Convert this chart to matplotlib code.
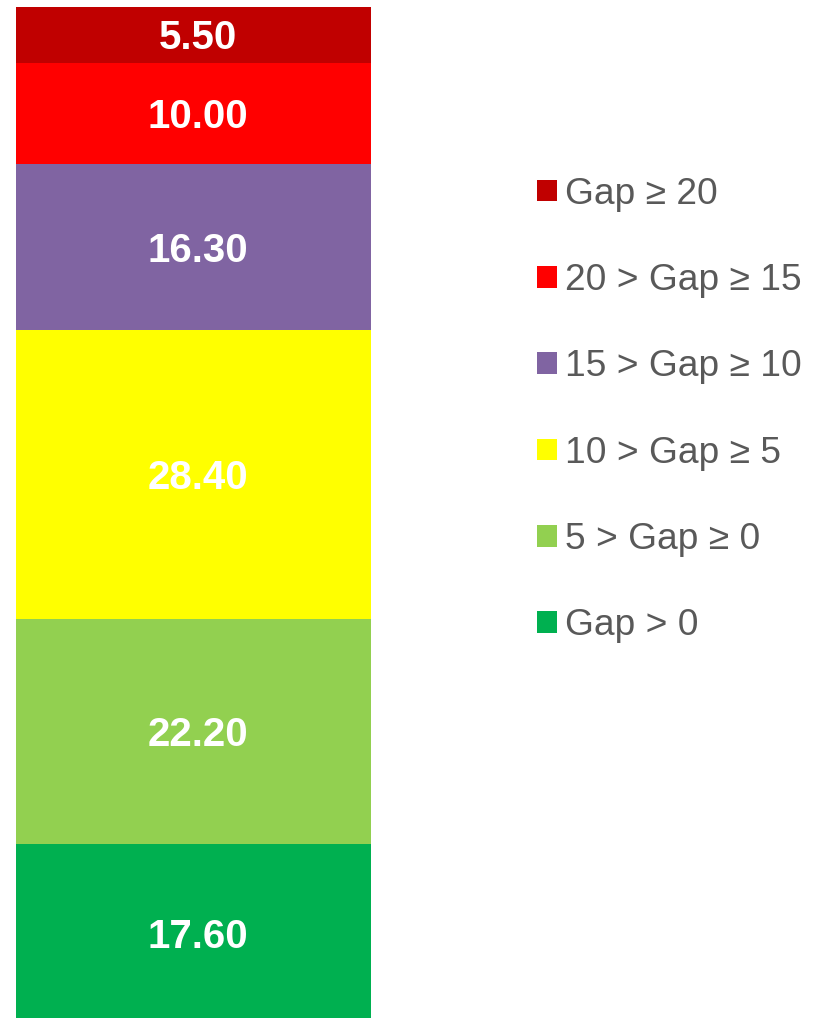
import matplotlib.pyplot as plt
from matplotlib.patches import Patch

plt.rcParams['font.family'] = ['Liberation Sans', 'DejaVu Sans']

# bottom to top
values = [17.60, 22.20, 28.40, 16.30, 10.00, 5.50]
labels = ['Gap > 0', '5 > Gap \u2265 0', '10 > Gap \u2265 5',
          '15 > Gap \u2265 10', '20 > Gap \u2265 15', 'Gap \u2265 20']
colors = ['#00B050', '#92D050', '#FFFF00', '#8064A2', '#FF0000', '#C00000']

W, H = 814, 1018
fig = plt.figure(figsize=(W / 100, H / 100), dpi=100)
# bar runs a few pixels past the bottom edge of the picture
ax = fig.add_axes([16 / W, -5 / H, (371 - 16) / W, (1023 - 7) / H])

bottom = 0
for v, c, lab in zip(values, colors, labels):
    ax.bar(0, v, bottom=bottom, width=1.0, color=c, label=lab, linewidth=0)
    # centre the digits (cap height) on the segment
    ax.annotate(f'{v:.2f}', (0, bottom + v / 2), xytext=(3.2, -10.4),
                textcoords='offset points', ha='center', va='baseline',
                color='white', fontsize=29, fontweight='bold')
    bottom += v

ax.set_xlim(-0.5, 0.5)
ax.set_ylim(0, sum(values))
ax.axis('off')

handles = [Patch(facecolor=c, edgecolor='none') for c in colors][::-1]
fig.legend(handles, labels[::-1], loc='center left',
           bbox_to_anchor=(537 / W, 1 - 410 / H), frameon=False,
           fontsize=26.7, labelcolor='#595959', borderpad=0, borderaxespad=0,
           handlelength=0.53, handleheight=0.53, handletextpad=0.22,
           labelspacing=1.385)

fig.savefig('out.png', dpi=100)
